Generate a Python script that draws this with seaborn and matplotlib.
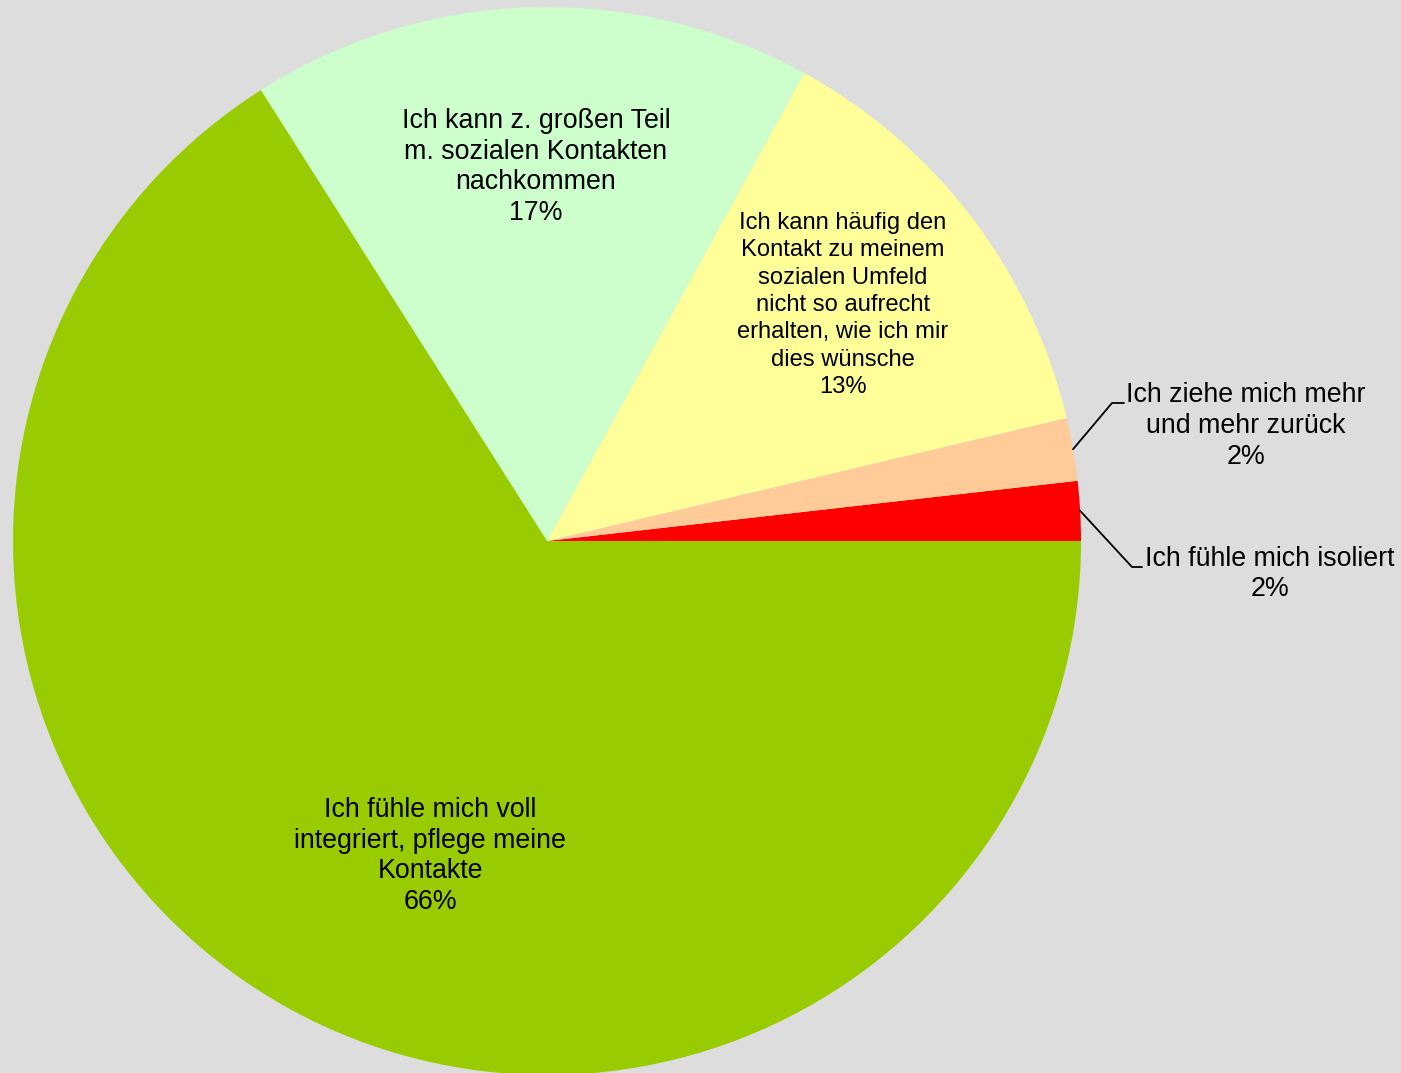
import numpy as np
import matplotlib
matplotlib.use("Agg")
import matplotlib.pyplot as plt
import seaborn as sns

sns.set_theme(style="white")
plt.rcParams['font.family'] = ['Liberation Sans', 'DejaVu Sans']

# Data (counter-clockwise from 3 o'clock)
categories = [
    "Ich fühle mich isoliert",
    "Ich ziehe mich mehr\nund mehr zurück",
    "Ich kann häufig den\nKontakt zu meinem\nsozialen Umfeld\nnicht so aufrecht\nerhalten, wie ich mir\ndies wünsche",
    "Ich kann z. großen Teil\nm. sozialen Kontakten\nnachkommen",
    "Ich fühle mich voll\nintegriert, pflege meine\nKontakte",
]
values = [1.8, 1.9, 13.3, 17.0, 66.0]
colors = ["#FF0000", "#FFCC99", "#FFFF99", "#CCFFCC", "#99CC00"]

W, H = 1401, 1073
CX, CY, R = 547, 541, 534
BG = "#DDDDDD"

fig = plt.figure(figsize=(W / 100, H / 100), dpi=100)
fig.patch.set_facecolor(BG)
ax = fig.add_axes([0, 0, 1, 1])
ax.set_facecolor(BG)

wedges, _ = ax.pie(values, colors=colors, startangle=0, counterclock=True,
                   radius=1.0, center=(0, 0),
                   wedgeprops=dict(linewidth=0))
ax.set_xlim(-CX / R, (W - CX) / R)
ax.set_ylim(-(H - CY) / R, CY / R)
ax.set_aspect("equal")
ax.axis("off")


def px(x, y):
    return (x - CX) / R, (CY - y) / R


total = sum(values)
pct = [f"{round(v / total * 100):.0f}%" for v in values]

# inside labels
inside = {
    4: ((430, 856), 19.3, 1.23),
    3: ((536, 167), 19.3, 1.23),
    2: ((843, 305), 17.1, 1.31),
}
for i, ((x, y), fs, ls) in inside.items():
    ax.text(*px(x, y), categories[i] + "\n" + pct[i], ha="center", va="center",
            fontsize=fs, color="black", linespacing=ls)

# outside labels with leader lines
outside = {
    1: ((1246, 426), (1112, 403), (1124, 403)),
    0: ((1270, 574), (1132, 567), (1142, 567)),
}
for i, ((x, y), knee, end) in outside.items():
    w = wedges[i]
    mid = np.deg2rad((w.theta1 + w.theta2) / 2)
    sx, sy = np.cos(mid), np.sin(mid)
    kx, ky = px(*knee)
    ex, ey = px(*end)
    ax.plot([sx, kx, ex], [sy, ky, ey], color="black", lw=1.3)
    ax.text(*px(x, y), categories[i] + "\n" + pct[i], ha="center", va="center",
            fontsize=19.3, color="black", linespacing=1.23)

fig.savefig("out.png", dpi=100, facecolor=BG)
